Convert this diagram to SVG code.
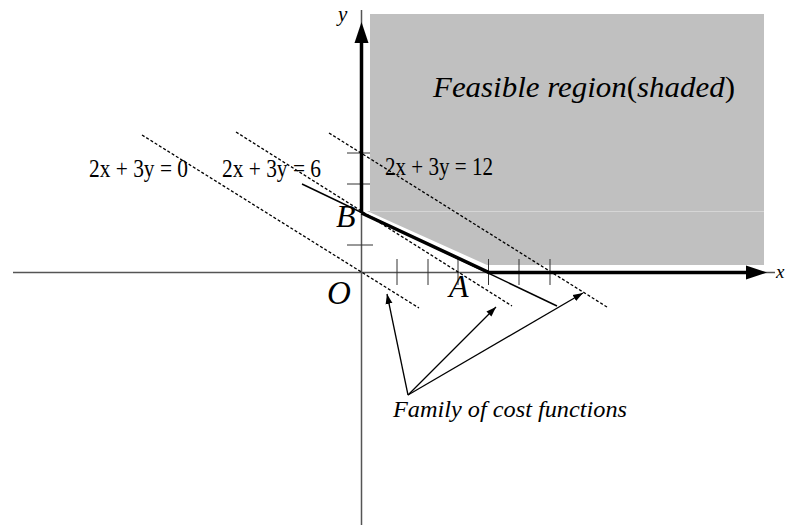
<svg xmlns="http://www.w3.org/2000/svg" width="788" height="526" viewBox="0 0 788 526">
<style>
text{font-family:"Liberation Serif","Times New Roman",serif;fill:#000}
.it{font-style:italic}
.up{font-style:normal}
.axis{stroke:#555;stroke-width:1.5;fill:none}
.tick{stroke:#333;stroke-width:1;fill:none}
.thick{stroke:#000;stroke-width:3.5;fill:none}
.thin{stroke:#000;stroke-width:1.5;fill:none}
.dash{stroke:#000;stroke-width:1.3;stroke-dasharray:3 2;fill:none}
.ptr{stroke:#000;stroke-width:1.3;fill:none;marker-end:url(#ah)}
.head{fill:#000}
</style>
<defs>
<marker id="ah" markerUnits="userSpaceOnUse" markerWidth="12" markerHeight="10" refX="10" refY="4" orient="auto">
<path d="M0,0.5 L10,4 L0,7.5 z" fill="#000"/>
</marker>
</defs>
<rect width="788" height="526" fill="#fff"/>
<g id="feasible-region">
<polygon points="370,14 764,14 764,265 487,265 367,211 370,211" fill="#c0c0c0"/>
<line x1="370" y1="211.5" x2="764" y2="211.5" stroke="#d6d6d6" stroke-width="1"/>
<text class="it" x="433" y="97" font-size="29" textLength="302" lengthAdjust="spacingAndGlyphs">Feasible region<tspan class="up">(</tspan>shaded<tspan class="up">)</tspan></text>
</g>
<g id="axes">
<line class="axis" x1="13" y1="272.5" x2="775" y2="272.5"/>
<line class="axis" x1="361.5" y1="10" x2="361.5" y2="525"/>
<line class="tick" x1="397" y1="259" x2="397" y2="285"/>
<line class="tick" x1="428" y1="259" x2="428" y2="285"/>
<line class="tick" x1="458" y1="259" x2="458" y2="285"/>
<line class="tick" x1="488.5" y1="259" x2="488.5" y2="285"/>
<line class="tick" x1="519" y1="259" x2="519" y2="285"/>
<line class="tick" x1="550" y1="259" x2="550" y2="285"/>
<line class="tick" x1="347" y1="153" x2="370" y2="153"/>
<line class="tick" x1="347" y1="184" x2="370" y2="184"/>
<line class="tick" x1="347" y1="245" x2="373" y2="245"/>
<text class="it" x="338" y="21" font-size="21">y</text>
<text class="it" x="776" y="278" font-size="19">x</text>
<text class="it" x="327" y="304" font-size="33">O</text>
</g>
<g id="connectors">
<line class="thin" x1="302" y1="184" x2="557" y2="306"/>
<line class="thick" x1="361.5" y1="213" x2="361.5" y2="40"/>
<polygon class="head" points="361.5,22 354.5,43 368.5,43"/>
<polyline class="thick" points="361.5,213 489,272.5 750,272.5"/>
<polygon class="head" points="767,272.5 746,265.5 746,279.5"/>
<line class="dash" x1="142" y1="135" x2="419" y2="308"/>
<line class="dash" x1="236" y1="132" x2="512" y2="306"/>
<line class="dash" x1="329" y1="133" x2="607" y2="307"/>
<line class="ptr" x1="408" y1="395" x2="387" y2="294"/>
<line class="ptr" x1="408" y1="395" x2="496" y2="307"/>
<line class="ptr" x1="408" y1="395" x2="583" y2="293"/>
</g>
<g id="point-B">
<text class="it" x="336" y="227" font-size="32">B</text>
</g>
<g id="point-A">
<text class="it" x="449" y="297" font-size="32">A</text>
</g>
<g id="cost-line-0">
<text x="89" y="177" font-size="25" textLength="99" lengthAdjust="spacingAndGlyphs">2x + 3y = 0</text>
</g>
<g id="cost-line-6">
<text x="222" y="177" font-size="25" textLength="99" lengthAdjust="spacingAndGlyphs">2x + 3y = 6</text>
</g>
<g id="cost-line-12">
<text x="385" y="175" font-size="25" textLength="108" lengthAdjust="spacingAndGlyphs">2x + 3y = 12</text>
</g>
<g id="family-label">
<text class="it" x="393" y="417" font-size="23" textLength="234" lengthAdjust="spacingAndGlyphs">Family of cost  functions</text>
</g>
</svg>
